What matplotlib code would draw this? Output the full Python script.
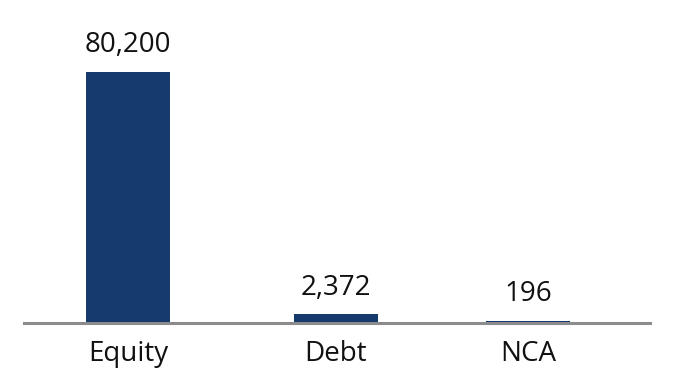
import matplotlib
matplotlib.use("Agg")
import matplotlib.pyplot as plt

categories = ["Equity", "Debt", "NCA"]
values = [80200, 2372, 196]
value_labels = ["80,200", "2,372", "196"]

plt.rcParams['font.family'] = ['Open Sans', 'DejaVu Sans']

fig = plt.figure(figsize=(6.81, 3.89), dpi=100)
ax = fig.add_axes([24 / 681, 67.5 / 389, 626 / 681, 249.5 / 389])

pos = [0, 1.04, 2.0]
bars = ax.bar(pos, values, width=0.42, color="#173a6e", zorder=4)
ax.set_xlim(-0.52, 2.61)
ax.set_ylim(0, 80200)

for b, lab in zip(bars, value_labels):
    ax.annotate(lab, (b.get_x() + b.get_width() / 2, b.get_height()),
                xytext=(0, 9), textcoords="offset points",
                ha="center", va="bottom", fontsize=20, color="#111111",
                annotation_clip=False)

for s in ["top", "right", "left"]:
    ax.spines[s].set_visible(False)
ax.spines["bottom"].set_color("#8c8c8c")
ax.spines["bottom"].set_linewidth(2.2)
ax.spines["bottom"].set_position(("outward", 1))
ax.spines["bottom"].set_zorder(1)

ax.set_yticks([])
ax.set_xticks(pos)
ax.set_xticklabels(categories, fontsize=20, color="#111111")
ax.tick_params(axis="x", length=0, pad=12)

fig.savefig("out.png", dpi=100)
